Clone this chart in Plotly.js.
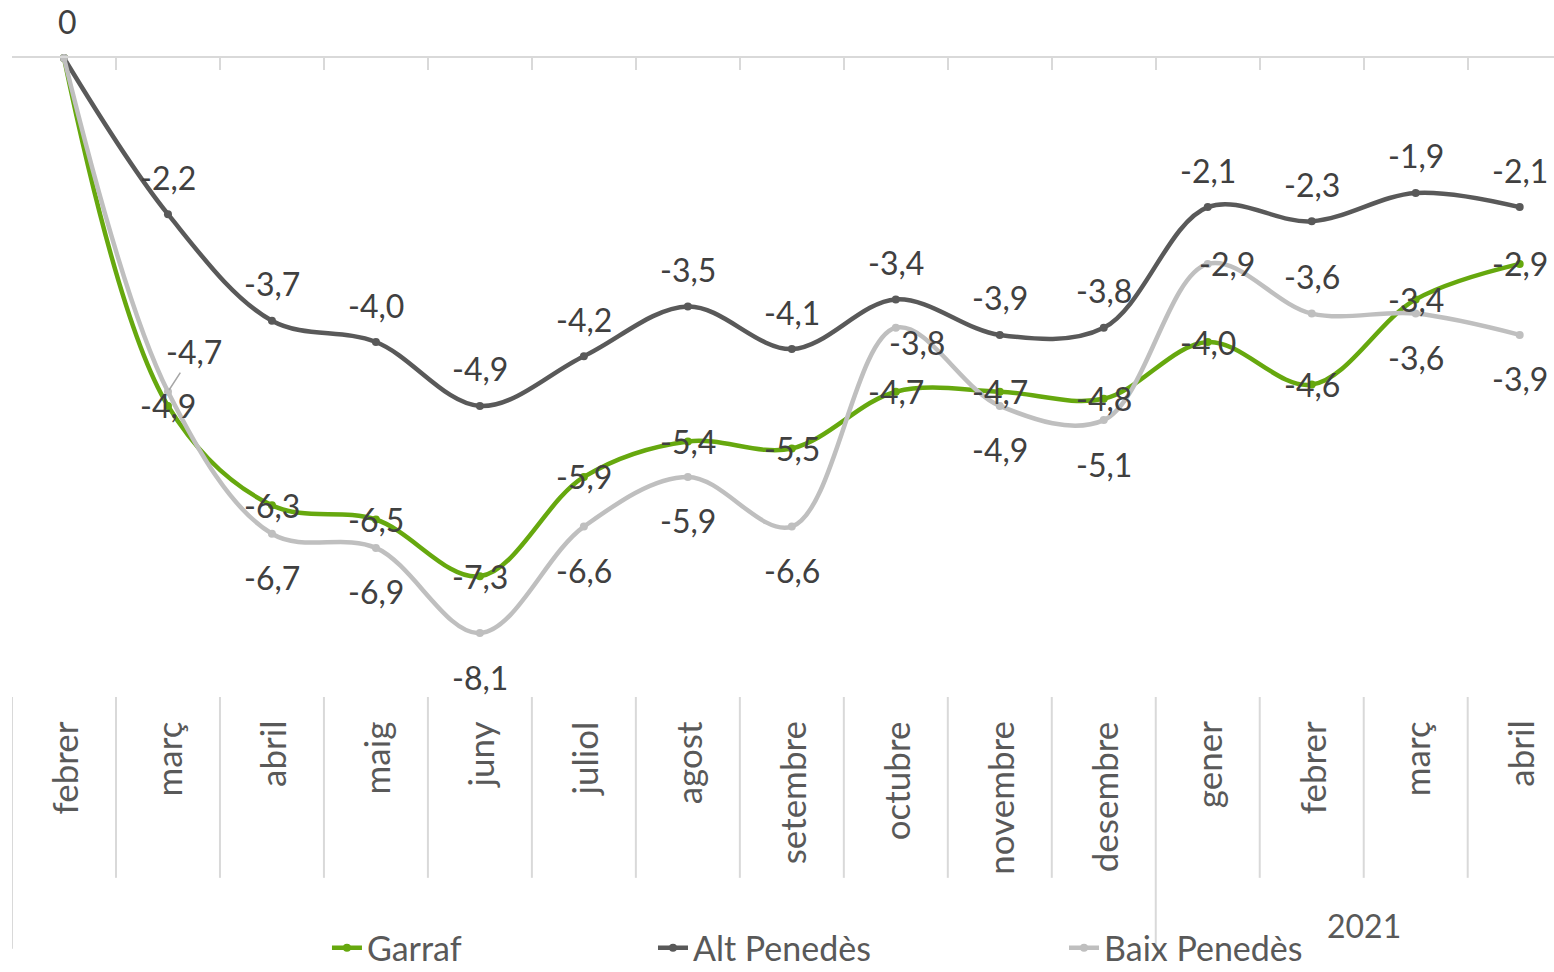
<!DOCTYPE html>
<html>
<head>
<meta charset="utf-8">
<script src="https://cdn.plot.ly/plotly-3.0.1.min.js"></script>
<style>html,body{margin:0;padding:0;background:#fff;}#chart{width:1554px;height:972px;}</style>
</head>
<body>
<div id="chart"></div>
<script>
// ---- data ----
const months = ['febrer','març','abril','maig','juny','juliol','agost','setembre','octubre','novembre','desembre','gener','febrer','març','abril'];
const yearGroups = [{label: '', start: 0, end: 10}, {label: '2021', start: 11, end: 14}];
const garraf = [0, -4.9, -6.3, -6.5, -7.3, -5.9, -5.4, -5.5, -4.7, -4.7, -4.8, -4.0, -4.6, -3.4, -2.9];
const altPenedes = [0, -2.2, -3.7, -4.0, -4.9, -4.2, -3.5, -4.1, -3.4, -3.9, -3.8, -2.1, -2.3, -1.9, -2.1];
const baixPenedes = [0, -4.7, -6.7, -6.9, -8.1, -6.6, -5.9, -6.6, -3.8, -4.9, -5.1, -2.9, -3.6, -3.6, -3.9];
const seriesNames = ['Garraf', 'Alt Penedès', 'Baix Penedès'];

// ---- styles ----
const FONT = 'Lato, "Open Sans", sans-serif';
const TXT = '#404040';
const TXT2 = '#595959';
const FS = 32;
const FS_CAT = 35;
const FS_LEG = 34;
const colors = ['#66A80E', '#595959', '#BFBFBF'];
const xIdx = months.map((_, i) => i);

// label placement per point (style, not data)
const garrafPlace = months.map((_, i) => i === 0 ? 'none' : 'center');
const altPlace = months.map(() => 'above');
const baixPlace = ['none','leader','below','below','below','below','below','below','belowright','below','below','right','above','below','below'];

const placeShift = {
  center: [0, 0], above: [0, 37], below: [0, -44], right: [19, 0],
  belowright: [21, -15]
};

function fmt(v) { return v === 0 ? '0' : v.toFixed(1).replace('.', ','); }

const annotations = [];
function addLabels(vals, places, firstShift) {
  vals.forEach((v, i) => {
    const p = places[i];
    if (p === 'none') return;
    if (p === 'leader') {
      annotations.push({x: xIdx[i], y: v, xref: 'x', yref: 'y', text: fmt(v), showarrow: false ? true : true,
        arrowhead: 0, arrowwidth: 1.5, arrowcolor: '#A6A6A6', ax: 26, ay: -40, standoff: 2,
        font: {family: FONT, size: FS, color: TXT}});
      return;
    }
    const s = placeShift[p];
    annotations.push({x: xIdx[i], y: v, xref: 'x', yref: 'y', text: fmt(v), showarrow: false,
      xanchor: 'center', yanchor: 'middle', xshift: s[0] + (i === 0 ? 4 : 0), yshift: s[1],
      font: {family: FONT, size: FS, color: TXT}});
  });
}
addLabels(garraf, garrafPlace);
addLabels(altPenedes, altPlace);
addLabels(baixPenedes, baixPlace);

// category labels
months.forEach((m, i) => {
  annotations.push({x: xIdx[i], y: 0, xref: 'x', yref: 'paper', text: m, showarrow: false,
    textangle: -90, xanchor: 'center', yanchor: 'top', yshift: -22,
    font: {family: FONT, size: FS_CAT, color: TXT2}});
});
// year group labels
yearGroups.forEach(g => {
  if (!g.label) return;
  annotations.push({x: (g.start + g.end) / 2, y: -0.357, xref: 'x', yref: 'paper', text: g.label,
    showarrow: false, xanchor: 'center', yanchor: 'middle',
    font: {family: FONT, size: FS, color: TXT2}});
});

// divider lines in category area
const shapes = [];
const groupStarts = yearGroups.map(g => g.start);
for (let i = 0; i <= months.length; i++) {
  const isLong = groupStarts.includes(i) || i === months.length;
  shapes.push({type: 'line', xref: 'x', yref: 'paper', x0: i - 0.5, x1: i - 0.5, y0: 0,
    y1: isLong ? -0.394 : -0.283, line: {color: '#D9D9D9', width: 2}});
}

const seriesData = [garraf, altPenedes, baixPenedes];
const legendIds = ['legend', 'legend2', 'legend3'];
const traces = seriesData.map((vals, k) => ({
  type: 'scatter', mode: 'lines+markers', name: seriesNames[k], x: xIdx, y: vals,
  line: {color: colors[k], width: 4.5, shape: 'spline', smoothing: 1},
  marker: {color: colors[k], size: 8},
  cliponaxis: false, legend: legendIds[k], hoverinfo: 'x+y'
}));

const legendBase = {orientation: 'h', xref: 'container', yref: 'container', yanchor: 'middle', y: 0.0245,
  xanchor: 'left', font: {family: FONT, size: FS_LEG, color: TXT2}, bgcolor: 'rgba(0,0,0,0)'};

const layout = {
  width: 1554, height: 972,
  margin: {l: 12, r: 0, t: 58, b: 275, autoexpand: false},
  paper_bgcolor: '#fff', plot_bgcolor: '#fff',
  showlegend: true,
  legend: Object.assign({}, legendBase, {x: 0.2104}),
  legend2: Object.assign({}, legendBase, {x: 0.4202}),
  legend3: Object.assign({}, legendBase, {x: 0.6847}),
  xaxis: {range: [-0.5, 14.33], side: 'top', showline: true, linecolor: '#D9D9D9', linewidth: 2,
    ticks: 'inside', ticklen: 12, tickcolor: '#D9D9D9', tickwidth: 2,
    tickmode: 'linear', tick0: -0.5, dtick: 1, showticklabels: false, showgrid: false, zeroline: false},
  yaxis: {range: [-9, 0], visible: false, showgrid: false, zeroline: false},
  annotations: annotations,
  shapes: shapes
};

Plotly.newPlot('chart', traces, layout, {displayModeBar: false, staticPlot: true});
</script>
</body>
</html>
